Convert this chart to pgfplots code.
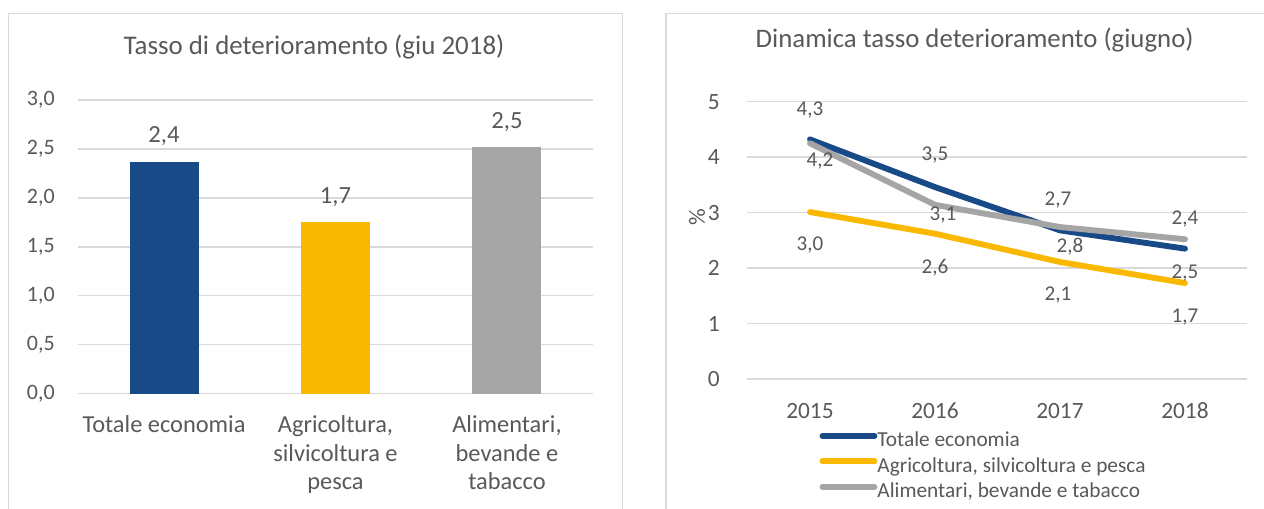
\documentclass[border=0pt]{standalone}
\usepackage{pgfplots}
\usepackage{pgfplotstable}
\pgfplotsset{compat=1.18}
\usepackage{fontspec}
\setmainfont{Carlito}
\definecolor{cblue}{HTML}{194A88}
\definecolor{cyel}{HTML}{FAB800}
\definecolor{cgray}{HTML}{A5A5A5}
\definecolor{ctext}{HTML}{595959}
\definecolor{cgrid}{HTML}{D9D9D9}

\pgfplotstableread{
x y dx dy lab
2015 4.32 0 29 4,3
2016 3.46 0 32 3,5
2017 2.68 -2 30 2,7
2018 2.35 0 30 2,4
}\tot
\pgfplotstableread{
x y dx dy lab
2015 3.01 0 -33 3,0
2016 2.62 0 -34 2,6
2017 2.11 -2 -33 2,1
2018 1.73 0 -34 1,7
}\agr
\pgfplotstableread{
x y dx dy lab
2015 4.25 10 -18 4,2
2016 3.14 8 -10 3,1
2017 2.74 10 -20 2,8
2018 2.52 0 -34 2,5
}\ali

\begin{document}
\begin{tikzpicture}
\path[use as bounding box] (0,0) rectangle (948pt,381pt);
% panel borders
\draw[cgrid, line width=1pt] (6.2pt,-10pt) -- (6.2pt,371pt) -- (467pt,371pt) -- (467pt,-10pt);
\draw[cgrid, line width=1pt] (499.5pt,-10pt) -- (499.5pt,371pt) -- (960pt,371pt);
% titles
\node[text=ctext, font=\fontsize{20.2}{24}\selectfont] at (235.5pt,345.75pt) {Tasso di deterioramento (giu 2018)};
\node[text=ctext, font=\fontsize{20.1}{24}\selectfont] at (731pt,351pt) {Dinamica tasso deterioramento (giugno)};

% left bar chart
\begin{axis}[at={(58.73pt,85.875pt)}, anchor=south west, scale only axis,
  width=385.8pt, height=220.1pt,
  xmin=-0.5, xmax=2.5, ymin=0, ymax=3,
  ytick={0,0.5,1,1.5,2,2.5,3},
  xtick={0,1,2},
  xticklabels={Totale economia,{Agricoltura,\\silvicoltura e\\pesca},{Alimentari,\\bevande e\\tabacco}},
  axis line style={draw=none},
  tick style={draw=none}, major tick length=0pt,
  ymajorgrids, grid style={cgrid, line width=1.2pt},
  /pgf/number format/.cd, fixed, fixed zerofill, precision=1, use comma, assume math mode=true,
  /pgfplots/.cd,
  yticklabel style={font=\fontsize{16.5}{20}\selectfont, text=ctext, anchor=east, inner sep=0pt, xshift=-17.5pt},
  xticklabel style={font=\fontsize{18.3}{21.4}\selectfont, text=ctext, anchor=north, align=center, inner sep=0pt, yshift=-16.5pt},
  nodes near coords, point meta=explicit symbolic,
  nodes near coords style={font=\fontsize{18.5}{22}\selectfont, text=ctext, anchor=base, inner sep=0pt, yshift=14pt},
  clip=false,
]
\addplot[ybar, bar width=51.75pt, bar shift=0pt, fill=cblue, draw=none] coordinates {(0,2.37) [2,4]};
\addplot[ybar, bar width=51.75pt, bar shift=0pt, fill=cyel, draw=none] coordinates {(1,1.75) [1,7]};
\addplot[ybar, bar width=51.75pt, bar shift=0pt, fill=cgray, draw=none] coordinates {(2,2.52) [2,5]};
\end{axis}

% right line chart
\begin{axis}[at={(560.6pt,96.75pt)}, anchor=south west, scale only axis,
  width=375pt, height=208pt,
  xmin=2014.5, xmax=2018.5, ymin=0, ymax=5,
  ytick={0,1,2,3,4,5},
  xtick={2015,2016,2017,2018},
  axis line style={draw=none},
  tick style={draw=none}, major tick length=0pt,
  ymajorgrids, grid style={cgrid, line width=1.2pt},
  /pgf/number format/.cd, 1000 sep={}, assume math mode=true,
  /pgfplots/.cd,
  yticklabel style={font=\fontsize{17.5}{21}\selectfont, text=ctext, anchor=east, inner sep=0pt, xshift=-20.6pt},
  xticklabel style={font=\fontsize{17.5}{21}\selectfont, text=ctext, anchor=base, inner sep=0pt, yshift=-29.4pt},
  ylabel={\%}, ylabel style={font=\fontsize{17.5}{21}\selectfont, text=ctext, at={(rel axis cs:-0.101,0.585)}, anchor=center},
  clip=false,
  legend style={at={(rel axis cs:0.1436,-0.184)}, anchor=north west, draw=none, fill=none, inner sep=0pt,
    font=\fontsize{16}{19}\selectfont, text=ctext,
    nodes={inner sep=0pt, text height=12.5pt, text depth=6.5pt},
    cells={anchor=west}, row sep=0pt,
    /tikz/every even column/.append style={column sep=3.5pt}},
  legend image code/.code={\draw[#1, line cap=round] (1.6pt,5.2pt) -- (40.6pt,5.2pt);},
  nodes near coords, point meta=explicit symbolic,
  visualization depends on={\thisrow{dx}\as\dx},
  visualization depends on={\thisrow{dy}\as\dy},
  nodes near coords style={font=\fontsize{15.8}{19}\selectfont, text=ctext, anchor=center, inner sep=0pt, xshift={\dx*0.75pt}, yshift={\dy*0.75pt}},
]
\addplot[cblue, line width=4.4pt, line join=round, line cap=round] table[x=x,y=y,meta=lab]{\tot};
\addlegendentry{Totale economia}
\addplot[cyel, line width=4.4pt, line join=round, line cap=round] table[x=x,y=y,meta=lab]{\agr};
\addlegendentry{Agricoltura, silvicoltura e pesca}
\addplot[cgray, line width=4.4pt, line join=round, line cap=round] table[x=x,y=y,meta=lab]{\ali};
\addlegendentry{Alimentari, bevande e tabacco}
\end{axis}
\end{tikzpicture}
\end{document}
